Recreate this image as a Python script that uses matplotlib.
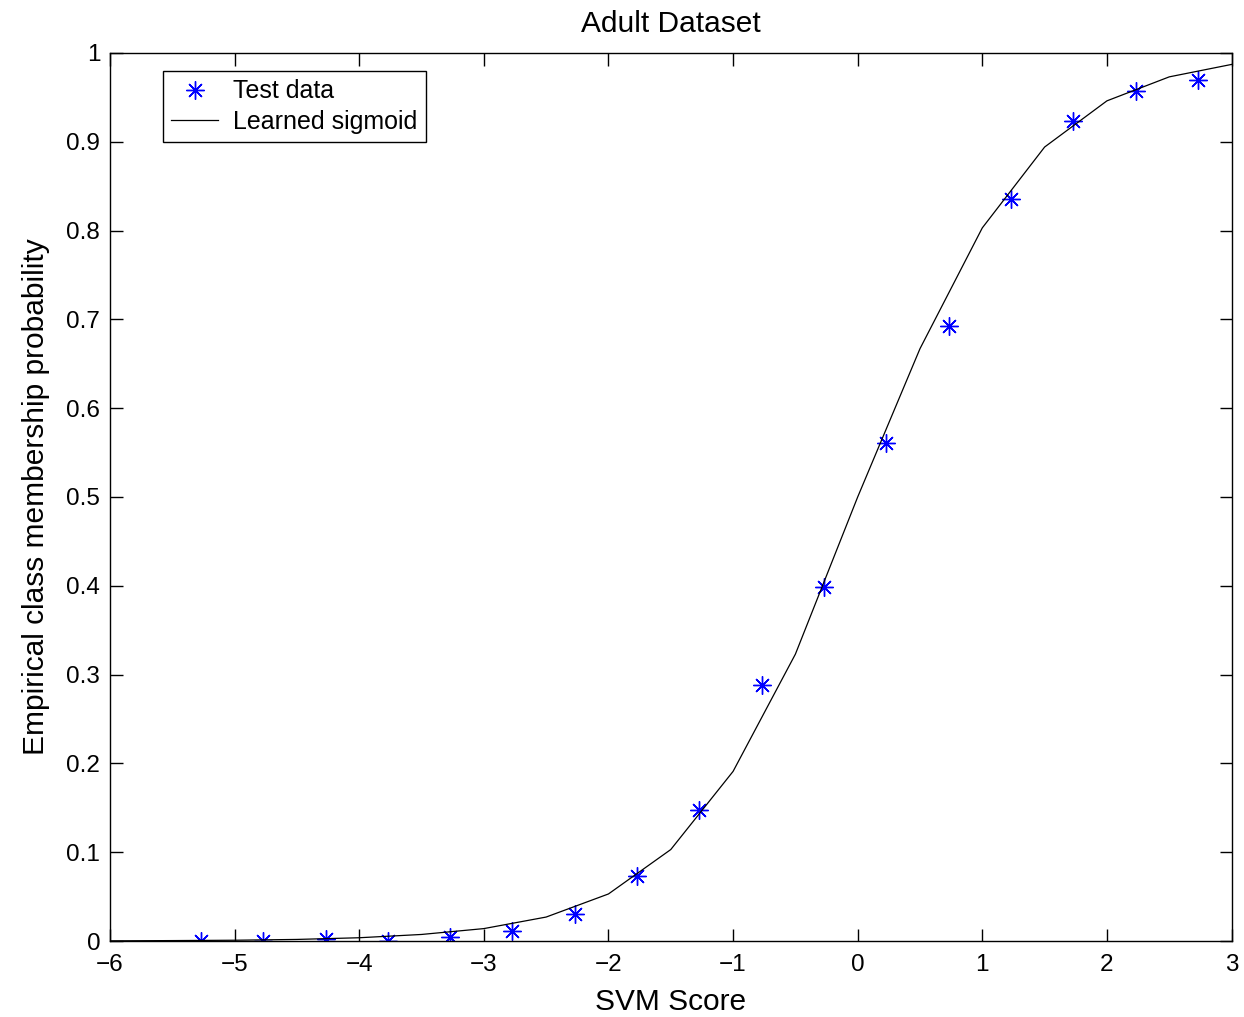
import numpy as np
import matplotlib.pyplot as plt

plt.rcParams['font.family'] = ['Liberation Sans', 'DejaVu Sans']

# Test data points
test_x = [-5.27, -4.77, -4.27, -3.77, -3.27, -2.77, -2.27, -1.77, -1.27,
          -0.77, -0.27, 0.23, 0.73, 1.23, 1.73, 2.23, 2.73]
test_y = [0.0, 0.0, 0.002, 0.0, 0.005, 0.011, 0.030, 0.073, 0.148,
          0.288, 0.399, 0.561, 0.693, 0.836, 0.923, 0.957, 0.970]

# Learned sigmoid, sampled every 0.5
sig_x = [-6.0, -5.5, -5.0, -4.5, -4.0, -3.5, -3.0, -2.5, -2.0, -1.5,
         -1.0, -0.5, 0.0, 0.5, 1.0, 1.5, 2.0, 2.5, 3.0]
sig_y = [0.0002, 0.0005, 0.0009, 0.0018, 0.0037, 0.0074, 0.014, 0.027, 0.053, 0.103,
         0.191, 0.323, 0.5, 0.667, 0.803, 0.894, 0.946, 0.973, 0.987]

fig = plt.figure(figsize=(12.44, 10.17), dpi=100)
ax = fig.add_axes([0.0884, 0.0747, 0.9016, 0.8733])

ax.plot(test_x, test_y, linestyle='none', marker=(8, 2, 0), markersize=13,
        markeredgewidth=1.0, color='#0000ff', label='Test data')
ax.plot(sig_x, sig_y, color='black', linewidth=0.9, label='Learned sigmoid')

ax.set_xlim(-6, 3)
ax.set_ylim(0, 1)
ax.set_xticks(np.arange(-6, 4, 1))
ax.set_yticks(np.arange(0, 1.01, 0.1))
ax.set_yticklabels(['0', '0.1', '0.2', '0.3', '0.4', '0.5', '0.6', '0.7', '0.8', '0.9', '1'])
ax.tick_params(direction='in', top=True, right=True, length=9, width=1, labelsize=17.5)
ax.tick_params(axis='x', pad=9)
ax.tick_params(axis='y', pad=7)
for s in ax.spines.values():
    s.set_linewidth(1)

ax.set_title('Adult Dataset', fontsize=21.5, pad=15)
ax.set_xlabel('SVM Score', fontsize=21.5, labelpad=9)
ax.set_ylabel('Empirical class membership probability', fontsize=21.5, labelpad=12)

leg = ax.legend(loc='upper left', bbox_to_anchor=(0.047, 0.98), borderaxespad=0,
                fontsize=18, frameon=True, fancybox=False, edgecolor='black',
                framealpha=1, handlelength=1.85, borderpad=0.35, labelspacing=0.25,
                handletextpad=0.6)
leg.get_frame().set_linewidth(1)

fig.savefig('out.png', dpi=100)
